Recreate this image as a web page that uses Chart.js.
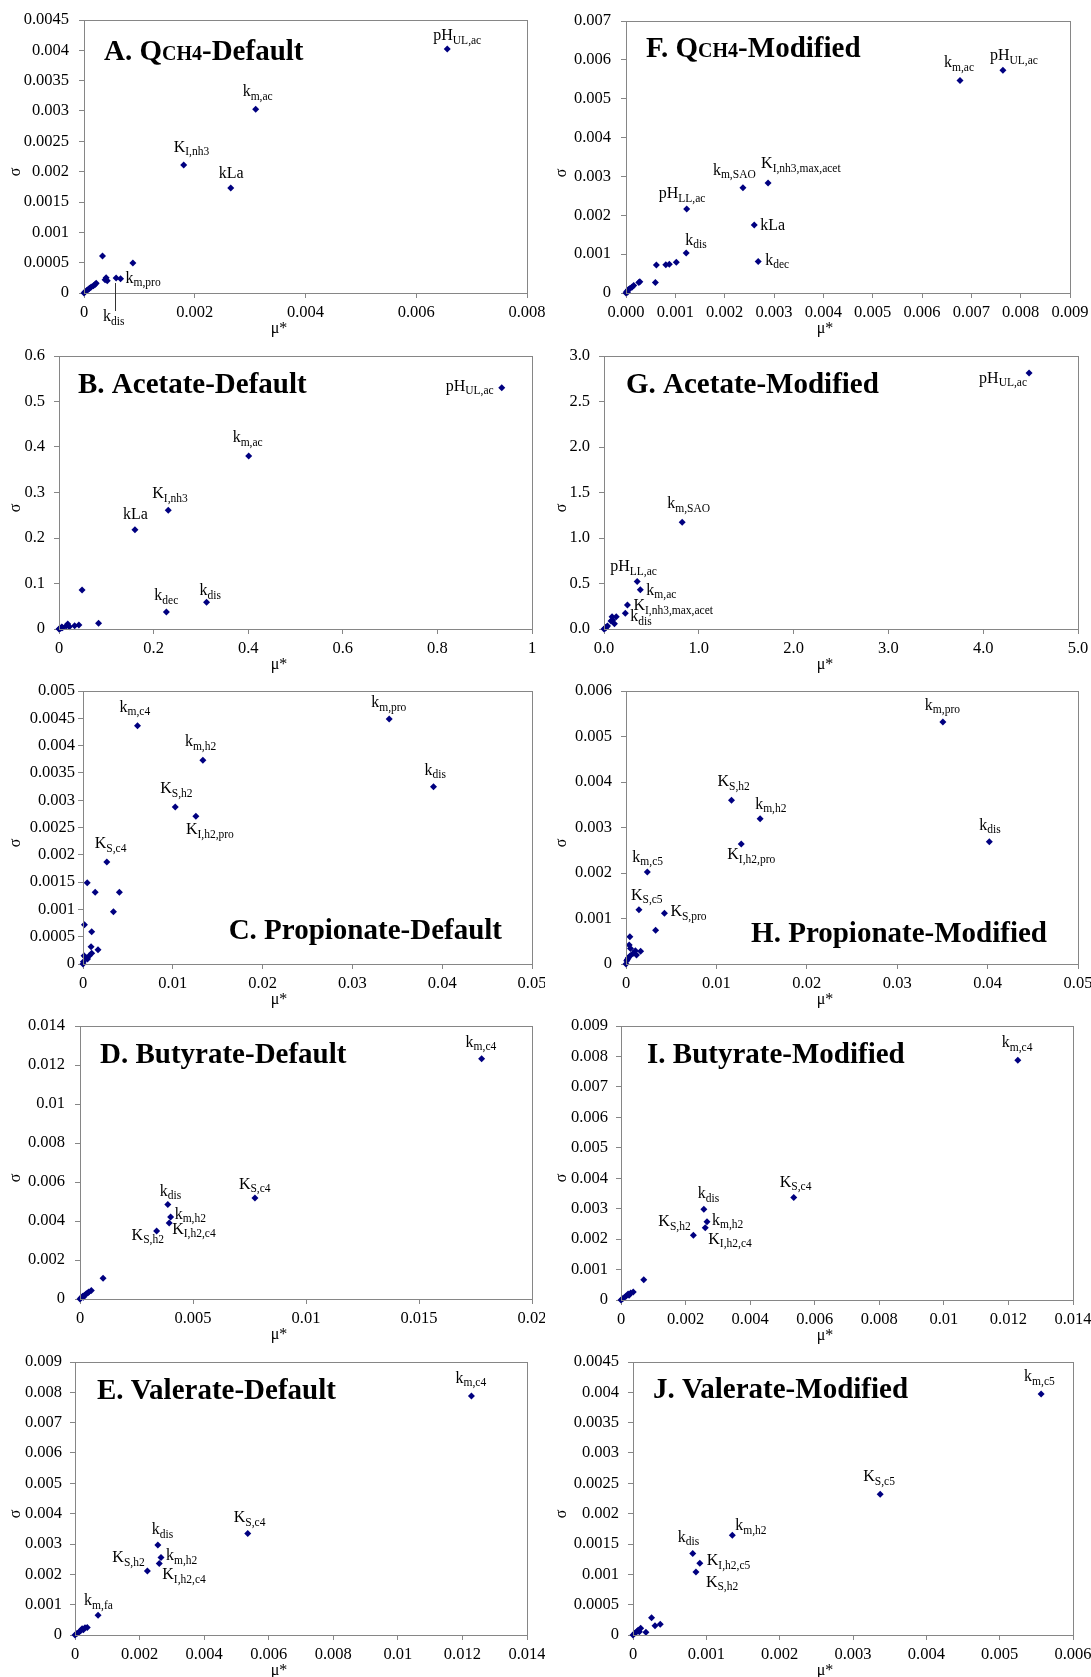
<!DOCTYPE html>
<html>
<head>
<meta charset="utf-8">
<script src="https://cdn.jsdelivr.net/npm/chart.js@4/dist/chart.umd.min.js"></script>
<style>
  body { margin: 0; background: #fff; }
  #page { position: relative; width: 1091px; height: 1677px; background: #fff; overflow: hidden; }
  #page canvas { position: absolute; }
</style>
</head>
<body>
<div id="page"></div>
<script>
// ---- data (mu*, sigma) per panel; labelled points come first ----
// names use "main|subscript"

// A. QCH4-Default
const aMu    = [0.00656, 0.0031, 0.0018, 0.00265, 0.00066, 0.00058, 0.000334, 0.000883, 0.00038, 0.0004, 0.00042, 0.00022, 0.0002, 0.00017, 0.00013, 0.0001, 0.00008, 0.00005, 0.00002, 0];
const aSigma = [0.00402, 0.00303, 0.00211, 0.00173, 0.000236, 0.000247, 0.00061, 0.000494, 0.00022, 0.00025, 0.0002, 0.00016, 0.00014, 0.00012, 0.0001, 0.00008, 0.00006, 0.00004, 0.00002, 0];
const aNames = ['pH|UL,ac', 'k|m,ac', 'K|I,nh3', 'kLa', 'k|m,pro', 'k|dis'];
const aXTicks = ['0', '0.002', '0.004', '0.006', '0.008'];
const aYTicks = ['0', '0.0005', '0.001', '0.0015', '0.002', '0.0025', '0.003', '0.0035', '0.004', '0.0045'];
const aTitle = ['A. Q', 'CH4', '-Default'];

// F. QCH4-Modified
const fMu    = [0.00764, 0.00677, 0.00288, 0.00237, 0.00123, 0.0026, 0.00122, 0.00268, 0.000616, 0.000807, 0.000878, 0.00102, 0.000595, 0.00026, 0.00028, 0.000156, 0.00012, 0.000085, 0.00005, 0.00003, 0.000014, 0];
const fSigma = [0.00573, 0.00547, 0.00283, 0.00271, 0.00216, 0.00175, 0.00103, 0.00081, 0.00072, 0.00073, 0.00074, 0.00079, 0.00027, 0.00027, 0.00029, 0.00019, 0.00015, 0.00012, 0.00009, 0.00002, 0.00004, 0];
const fNames = ['pH|UL,ac', 'k|m,ac', 'K|I,nh3,max,acet', 'k|m,SAO', 'pH|LL,ac', 'kLa', 'k|dis', 'k|dec'];
const fXTicks = ['0.000', '0.001', '0.002', '0.003', '0.004', '0.005', '0.006', '0.007', '0.008', '0.009'];
const fYTicks = ['0', '0.001', '0.002', '0.003', '0.004', '0.005', '0.006', '0.007'];
const fTitle = ['F. Q', 'CH4', '-Modified'];

// B. Acetate-Default
const bMu    = [0.936, 0.401, 0.231, 0.1605, 0.227, 0.312, 0.0488, 0.0836, 0.042, 0.033, 0.022, 0.0185, 0.015, 0.0074, 0.006, 0.0037, 0.0015, 0];
const bSigma = [0.530, 0.380, 0.261, 0.218, 0.0373, 0.059, 0.0856, 0.0124, 0.0088, 0.0073, 0.005, 0.011, 0.0066, 0.003, 0.0044, 0.0015, 0.0008, 0];
const bNames = ['pH|UL,ac', 'k|m,ac', 'K|I,nh3', 'kLa', 'k|dec', 'k|dis'];
const bXTicks = ['0', '0.2', '0.4', '0.6', '0.8', '1'];
const bYTicks = ['0', '0.1', '0.2', '0.3', '0.4', '0.5', '0.6'];
const bTitle = ['B. Acetate-Default'];

// G. Acetate-Modified
const gMu    = [4.484, 0.825, 0.35, 0.383, 0.247, 0.225, 0.129, 0.085, 0.092, 0.11, 0.074, 0.037, 0.026, 0.018, 0.011, 0];
const gSigma = [2.814, 1.174, 0.523, 0.432, 0.263, 0.172, 0.135, 0.135, 0.099, 0.059, 0.088, 0.033, 0.022, 0.015, 0.007, 0];
const gNames = ['pH|UL,ac', 'k|m,SAO', 'pH|LL,ac', 'k|m,ac', 'K|I,nh3,max,acet', 'k|dis'];
const gXTicks = ['0.0', '1.0', '2.0', '3.0', '4.0', '5.0'];
const gYTicks = ['0.0', '0.5', '1.0', '1.5', '2.0', '2.5', '3.0'];
const gTitle = ['G. Acetate-Modified'];

// C. Propionate-Default
const cMu    = [0.00607, 0.0341, 0.01335, 0.03903, 0.01027, 0.01257, 0.00265, 0.00047, 0.00136, 0.00405, 0.00339, 0.00016, 0.00097, 0.0009, 0.00167, 0.00097, 0.0007, 0.00031, 0.00012, 0.0005, 0.00004, 0];
const cSigma = [0.004365, 0.004487, 0.00373, 0.003248, 0.002875, 0.002705, 0.001868, 0.00149, 0.001313, 0.001313, 0.000958, 0.00072, 0.000592, 0.000317, 0.000262, 0.000195, 0.00015, 0.00012, 0.00015, 0.00009, 0.00004, 0];
const cNames = ['k|m,c4', 'k|m,pro', 'k|m,h2', 'k|dis', 'K|S,h2', 'K|I,h2,pro', 'K|S,c4'];
const cXTicks = ['0', '0.01', '0.02', '0.03', '0.04', '0.05'];
const cYTicks = ['0', '0.0005', '0.001', '0.0015', '0.002', '0.0025', '0.003', '0.0035', '0.004', '0.0045', '0.005'];
const cTitle = ['C. Propionate-Default'];

// H. Propionate-Modified
const hMu    = [0.03505, 0.01167, 0.01484, 0.01275, 0.04019, 0.00236, 0.00143, 0.00425, 0.00328, 0.00043, 0.00035, 0.0005, 0.00104, 0.00162, 0.00077, 0.00116, 0.00046, 0.00027, 0.00015, 0.00008, 0];
const hSigma = [0.00532, 0.0036, 0.003194, 0.002637, 0.002689, 0.002022, 0.001194, 0.001114, 0.00074, 0.0006, 0.00042, 0.00034, 0.00029, 0.00028, 0.00023, 0.0002, 0.00018, 0.00014, 0.0001, 0.00007, 0];
const hNames = ['k|m,pro', 'K|S,h2', 'k|m,h2', 'K|I,h2,pro', 'k|dis', 'k|m,c5', 'K|S,c5', 'K|S,pro'];
const hXTicks = ['0', '0.01', '0.02', '0.03', '0.04', '0.05'];
const hYTicks = ['0', '0.001', '0.002', '0.003', '0.004', '0.005', '0.006'];
const hTitle = ['H. Propionate-Modified'];

// D. Butyrate-Default
const dMu    = [0.01777, 0.00774, 0.003885, 0.00401, 0.003947, 0.00339, 0.00102, 0.0005, 0.00039, 0.00034, 0.00028, 0.0002, 0.00015, 0.00012, 0.00005, 0];
const dSigma = [0.01232, 0.005184, 0.004842, 0.004209, 0.0039, 0.00349, 0.00106, 0.00043, 0.00036, 0.00031, 0.00027, 0.00019, 0.00009, 0.00014, 0.00007, 0];
const dNames = ['k|m,c4', 'K|S,c4', 'k|dis', 'k|m,h2', 'K|I,h2,c4', 'K|S,h2'];
const dXTicks = ['0', '0.005', '0.01', '0.015', '0.02'];
const dYTicks = ['0', '0.002', '0.004', '0.006', '0.008', '0.01', '0.012', '0.014'];
const dTitle = ['D. Butyrate-Default'];

// I. Butyrate-Modified
const iMu    = [0.01229, 0.00535, 0.002566, 0.002664, 0.00261, 0.002241, 0.000704, 0.00038, 0.0003, 0.00025, 0.00022, 0.00016, 0.00011, 0.00005, 0];
const iSigma = [0.007875, 0.003363, 0.002979, 0.002574, 0.002377, 0.002125, 0.000668, 0.00026, 0.00023, 0.00016, 0.0002, 0.00013, 0.00009, 0.00004, 0];
const iNames = ['k|m,c4', 'K|S,c4', 'k|dis', 'k|m,h2', 'K|I,h2,c4', 'K|S,h2'];
const iXTicks = ['0', '0.002', '0.004', '0.006', '0.008', '0.01', '0.012', '0.014'];
const iYTicks = ['0', '0.001', '0.002', '0.003', '0.004', '0.005', '0.006', '0.007', '0.008', '0.009'];
const iTitle = ['I. Butyrate-Modified'];

// E. Valerate-Default
const eMu    = [0.01228, 0.00535, 0.002566, 0.002664, 0.00261, 0.002241, 0.000715, 0.00038, 0.00031, 0.00026, 0.00022, 0.00017, 0.00012, 0.00006, 0];
const eSigma = [0.00788, 0.003348, 0.002964, 0.002558, 0.00236, 0.002108, 0.000648, 0.00025, 0.00024, 0.00017, 0.00021, 0.00014, 0.00009, 0.00005, 0];
const eNames = ['k|m,c4', 'K|S,c4', 'k|dis', 'k|m,h2', 'K|I,h2,c4', 'K|S,h2', 'k|m,fa'];
const eXTicks = ['0', '0.002', '0.004', '0.006', '0.008', '0.01', '0.012', '0.014'];
const eYTicks = ['0', '0.001', '0.002', '0.003', '0.004', '0.005', '0.006', '0.007', '0.008', '0.009'];
const eTitle = ['E. Valerate-Default'];

// J. Valerate-Modified
const jMu    = [0.005565, 0.003371, 0.001354, 0.000815, 0.000911, 0.000858, 0.000253, 0.0003, 0.000372, 0.000176, 0.000105, 0.00007, 0.000086, 0.00005, 0.000024, 0];
const jSigma = [0.003971, 0.002321, 0.001645, 0.001342, 0.001183, 0.00104, 0.000286, 0.000154, 0.000176, 0.000044, 0.00011, 0.000077, 0.000055, 0.000055, 0.000027, 0];
const jNames = ['k|m,c5', 'K|S,c5', 'k|m,h2', 'k|dis', 'K|I,h2,c5', 'K|S,h2'];
const jXTicks = ['0', '0.001', '0.002', '0.003', '0.004', '0.005', '0.006'];
const jYTicks = ['0', '0.0005', '0.001', '0.0015', '0.002', '0.0025', '0.003', '0.0035', '0.004', '0.0045'];
const jTitle = ['J. Valerate-Modified'];

const panels = [
  { key: 'A', mu: aMu, sigma: aSigma, names: aNames, xTicks: aXTicks, yTicks: aYTicks, title: aTitle },
  { key: 'F', mu: fMu, sigma: fSigma, names: fNames, xTicks: fXTicks, yTicks: fYTicks, title: fTitle },
  { key: 'B', mu: bMu, sigma: bSigma, names: bNames, xTicks: bXTicks, yTicks: bYTicks, title: bTitle },
  { key: 'G', mu: gMu, sigma: gSigma, names: gNames, xTicks: gXTicks, yTicks: gYTicks, title: gTitle },
  { key: 'C', mu: cMu, sigma: cSigma, names: cNames, xTicks: cXTicks, yTicks: cYTicks, title: cTitle },
  { key: 'H', mu: hMu, sigma: hSigma, names: hNames, xTicks: hXTicks, yTicks: hYTicks, title: hTitle },
  { key: 'D', mu: dMu, sigma: dSigma, names: dNames, xTicks: dXTicks, yTicks: dYTicks, title: dTitle },
  { key: 'I', mu: iMu, sigma: iSigma, names: iNames, xTicks: iXTicks, yTicks: iYTicks, title: iTitle },
  { key: 'E', mu: eMu, sigma: eSigma, names: eNames, xTicks: eXTicks, yTicks: eYTicks, title: eTitle },
  { key: 'J', mu: jMu, sigma: jSigma, names: jNames, xTicks: jXTicks, yTicks: jYTicks, title: jTitle },
];

// ---- layout: plot-area box (page px), label offsets, title anchor ----
const layout = {
  A: { col: 0, area: [84, 20, 527, 293], yPad: 10, titleAt: ['tl', 20, 40],
       place: [[-14, -9], [-13, -13], [-10, -13], [-12, -10], [5, 4], [-13, 43, 5, 33]] },
  F: { col: 1, area: [626, 21, 1070, 293], yPad: 10, titleAt: ['tl', 20, 36],
       place: [[-13, -10], [-16, -13], [-7, -15], [-30, -13], [-28, -11], [6, 5], [-1, -8], [7, 3]] },
  B: { col: 0, area: [59, 356, 532, 629], yPad: 9, titleAt: ['tl', 19, 37],
       place: [[-56, 3], [-16, -14], [-16, -12], [-12, -11], [-12, -12], [-7, -7]] },
  G: { col: 1, area: [604, 356, 1078, 629], yPad: 9, titleAt: ['tl', 22, 37],
       place: [[-50, 10], [-15, -14], [-27, -10], [6, 5], [6, 5], [5, 8]] },
  C: { col: 0, area: [83, 691, 532, 964], yPad: 3, titleAt: ['br', -30, -25],
       place: [[-18, -14], [-18, -12], [-18, -14], [-9, -12], [-15, -14], [-10, 18], [-12, -14]] },
  H: { col: 1, area: [626, 691, 1078, 964], yPad: 9, titleAt: ['br', -31, -22],
       place: [[-18, -12], [-14, -14], [-5, -10], [-14, 15], [-10, -12], [-15, -10], [-8, -10], [6, 3]] },
  D: { col: 0, area: [80, 1026, 532, 1299], yPad: 10, titleAt: ['tl', 20, 37],
       place: [[-16, -12], [-16, -9], [-8, -9], [4, 2], [3, 11], [-25, 9]] },
  I: { col: 1, area: [621, 1026, 1073, 1300], yPad: 8, titleAt: ['tl', 26, 37],
       place: [[-16, -13], [-14, -11], [-6, -11], [5, 3], [3, 16], [-35, -9]] },
  E: { col: 0, area: [75, 1362, 527, 1635], yPad: 8, titleAt: ['tl', 22, 37],
       place: [[-16, -13], [-14, -11], [-6, -11], [5, 3], [3, 16], [-35, -9], [-14, -10]] },
  J: { col: 1, area: [633, 1362, 1073, 1635], yPad: 9, titleAt: ['tl', 20, 36],
       place: [[-17, -13], [-17, -13], [3, -5], [-15, -12], [7, 2], [10, 15]] },
};

const FONT = '"Liberation Serif", "Times New Roman", serif';
const AXIS_GREY = '#868686';
const MARK = '#000080';
const COLS = [0, 546];
const CW = 545;

Chart.defaults.font.family = FONT;
Chart.defaults.color = '#000';

// plot border, panel title, point labels, axis titles
const decor = {
  id: 'decor',
  afterDraw(chart, args, o) {
    const { ctx, chartArea: a, scales: { x, y } } = chart;
    ctx.save();

    ctx.strokeStyle = AXIS_GREY;
    ctx.lineWidth = 1;
    ctx.strokeRect(Math.round(a.left) + 0.5, Math.round(a.top) + 0.5,
                   Math.round(a.right - a.left), Math.round(a.bottom - a.top));

    // title, odd segments drawn smaller
    ctx.fillStyle = '#000';
    ctx.textBaseline = 'alphabetic';
    ctx.textAlign = 'left';
    const seg = o.title.map((t, i) => ({ t, f: i % 2 ? 'bold 20px ' + FONT : 'bold 29px ' + FONT }));
    let total = 0;
    seg.forEach(s => { ctx.font = s.f; s.w = ctx.measureText(s.t).width; total += s.w; });
    const [corner, tdx, tdy] = o.titleAt;
    let tx = corner === 'tl' ? a.left + tdx : a.right + tdx - total;
    const ty = corner === 'tl' ? a.top + tdy : a.bottom + tdy;
    seg.forEach(s => { ctx.font = s.f; ctx.fillText(s.t, tx, ty); tx += s.w; });

    // point labels
    o.names.forEach((n, i) => {
      const [main, sub] = n.split('|');
      const p = o.place[i];
      const px = x.getPixelForValue(o.mu[i]);
      const py = y.getPixelForValue(o.sigma[i]);
      if (p.length > 2) {
        ctx.strokeStyle = '#333';
        ctx.beginPath();
        ctx.moveTo(Math.round(px) - 0.5, py + p[2]);
        ctx.lineTo(Math.round(px) - 0.5, py + p[3]);
        ctx.stroke();
      }
      const lx = px + p[0], ly = py + p[1];
      ctx.font = '16px ' + FONT;
      ctx.fillText(main, lx, ly);
      if (sub) {
        const w = ctx.measureText(main).width;
        ctx.font = '11.5px ' + FONT;
        ctx.fillText(sub, lx + w, ly + 3.5);
      }
    });

    // axis titles
    ctx.font = '16px ' + FONT;
    ctx.textAlign = 'center';
    ctx.textBaseline = 'middle';
    ctx.fillText('\u03bc*', 279, a.bottom + 36);
    ctx.translate(16, a.top + 152);
    ctx.rotate(-Math.PI / 2);
    ctx.fillText('\u03c3', 0, 0);
    ctx.restore();
  }
};

const page = document.getElementById('page');

panels.forEach(p => {
  const L = layout[p.key];
  const cx = COLS[L.col];
  const [l, t, r, b] = L.area;
  const top = t - 20;
  const h = b + 48 - top;

  const canvas = document.createElement('canvas');
  canvas.width = CW;
  canvas.height = h;
  canvas.style.left = cx + 'px';
  canvas.style.top = top + 'px';
  page.appendChild(canvas);

  const xVals = p.xTicks.map(Number);
  const yVals = p.yTicks.map(Number);

  new Chart(canvas, {
    type: 'scatter',
    data: {
      datasets: [{
        data: p.mu.map((m, i) => ({ x: m, y: p.sigma[i] })),
        pointStyle: 'rectRot',
        pointRadius: 3.5,
        pointHoverRadius: 3.5,
        backgroundColor: MARK,
        borderWidth: 0,
        clip: false,
      }],
    },
    options: {
      responsive: false,
      animation: false,
      devicePixelRatio: 1,
      events: [],
      layout: { padding: { top: 20, right: CW - (r - cx), left: 0, bottom: 0 } },
      plugins: {
        legend: { display: false },
        tooltip: { enabled: false },
        decor: { title: p.title, titleAt: L.titleAt, names: p.names, place: L.place, mu: p.mu, sigma: p.sigma },
      },
      scales: {
        x: {
          type: 'linear',
          min: xVals[0],
          max: xVals[xVals.length - 1],
          afterBuildTicks: s => { s.ticks = xVals.map(v => ({ value: v })); },
          afterFit: s => { s.height = 48; s.paddingLeft = 0; s.paddingRight = 0; },
          ticks: { callback: (v, i) => p.xTicks[i], autoSkip: false, maxRotation: 0, padding: 5, font: { size: 16.5 } },
          grid: { drawOnChartArea: false, drawTicks: true, tickLength: 5, color: AXIS_GREY },
          border: { color: AXIS_GREY },
        },
        y: {
          type: 'linear',
          min: yVals[0],
          max: yVals[yVals.length - 1],
          afterBuildTicks: s => { s.ticks = yVals.map(v => ({ value: v })); },
          afterFit: s => { s.width = l - cx; s.paddingTop = 0; s.paddingBottom = 0; },
          ticks: { callback: (v, i) => p.yTicks[i], autoSkip: false, padding: L.yPad, font: { size: 16.5 } },
          grid: { drawOnChartArea: false, drawTicks: true, tickLength: 5, color: AXIS_GREY },
          border: { color: AXIS_GREY },
        },
      },
    },
    plugins: [decor],
  });
});
</script>
</body>
</html>
